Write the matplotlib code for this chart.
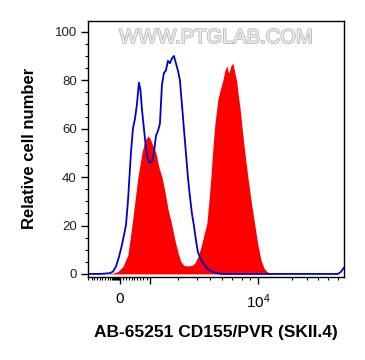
import matplotlib
matplotlib.use("Agg")
import matplotlib.pyplot as plt
import matplotlib.patheffects as pe
import numpy as np

plt.rcParams['font.family'] = ['Liberation Sans', 'DejaVu Sans']
plt.rcParams['mathtext.fontset'] = 'custom'
plt.rcParams['mathtext.rm'] = 'Liberation Sans'

# Display channel (0..256 across the axis, biexponential display)
blue_x = [0, 12, 22, 25, 28, 31, 34, 38, 40, 41.5, 43, 45, 47, 49, 51, 52.5, 54, 56, 58, 60,
          62, 64, 66, 68, 70, 72, 73, 74, 76, 78, 79, 80, 82, 84, 86, 88, 90, 92, 94, 96,
          98, 100, 102, 104, 106, 108, 110, 113, 116, 120, 124, 129, 134, 250, 253, 256]
blue_y = [0, 0, 0.3, 1, 3, 7, 12, 20, 30, 40, 50, 60, 64, 70, 79, 76, 68, 60, 52, 47,
          46, 46.5, 50, 57, 59, 62, 70, 78, 83, 84, 86, 88, 87, 89, 90, 87, 84, 80, 70, 60,
          50, 40, 32, 25, 20, 14, 9, 6, 4, 2, 1, 0.3, 0, 0, 0.8, 2.5]

red_x = [0, 20, 25, 30, 35, 40, 44, 47, 50, 54, 57, 60, 62, 65, 68, 71, 74, 77, 80, 84,
         87, 90, 93, 96, 100, 104, 107, 108, 110, 113, 116, 119, 121, 123, 125, 127, 130, 133, 135, 137,
         139, 140, 141, 143, 145, 147, 149, 150, 152, 154, 157, 160, 164, 167, 170, 173, 176, 179, 184, 256]
red_y = [0, 0, 0.3, 1, 3, 8, 20, 30, 40, 50, 55, 57, 56, 53, 50, 44, 40, 34, 27, 20,
         14, 9, 5, 3.5, 3.3, 3.5, 4.5, 5.5, 7, 11, 16, 21, 30, 40, 52, 62, 72, 77, 80, 84,
         86, 84, 83, 86, 87, 83, 79, 75, 69, 61, 50, 40, 28, 20, 12, 6, 2.5, 1, 0, 0]

major_ticks = [32, 62, 170]
major_labels = ['0', '', r'$\mathregular{10^4}$']
minor_ticks = [0.3, 3.7, 6.3, 9, 11.7, 14.3, 17, 19.7, 22.3, 24, 25, 26, 27, 28, 29, 30, 31,
               35.3, 38, 40.7, 43.7, 46.3, 49.3, 52, 55.3, 58.7,
               90, 109, 122, 134, 144, 154, 162,
               204, 219, 230, 240, 250]

fig = plt.figure(figsize=(3.65, 3.6), dpi=100)
ax = fig.add_axes([0.241, 0.231, 0.701, 0.711])

ax.fill_between(red_x, red_y, 0, color='#ff0000', linewidth=0)
ax.plot(blue_x, blue_y, color='#0000c8', linewidth=1.3)

ax.set_xlim(0, 256)
ax.set_ylim(-1.2, 104.5)

ax.set_xticks(major_ticks)
ax.set_xticklabels(major_labels)
ax.set_xticks(minor_ticks, minor=True)
ax.set_yticks([0, 20, 40, 60, 80, 100])
ax.set_yticks(np.arange(0, 101, 5), minor=True)

ax.tick_params(axis='both', which='major', length=5, width=1, labelsize=9.5, color='black', pad=3)
ax.tick_params(axis='both', which='minor', length=2.5, width=0.8)
ax.tick_params(axis='y', labelcolor='#222222')
ax.tick_params(axis='x', labelsize=11, pad=6)

for s in ax.spines.values():
    s.set_linewidth(1)
    s.set_color('black')

ax.set_ylabel('Relative cell number', fontsize=12, fontweight='bold', labelpad=13)
ax.set_xlabel('AB-65251 CD155/PVR (SKII.4)', fontsize=12.5, fontweight='bold', labelpad=10)

ax.text(0.5, 0.935, 'WWW.PTGLAB.COM', transform=ax.transAxes, ha='center', va='center',
        fontsize=14.5, color='#ececec',
        path_effects=[pe.withStroke(linewidth=1.2, foreground='#b8b8b8')], zorder=5)

fig.savefig('out.png', dpi=100)
